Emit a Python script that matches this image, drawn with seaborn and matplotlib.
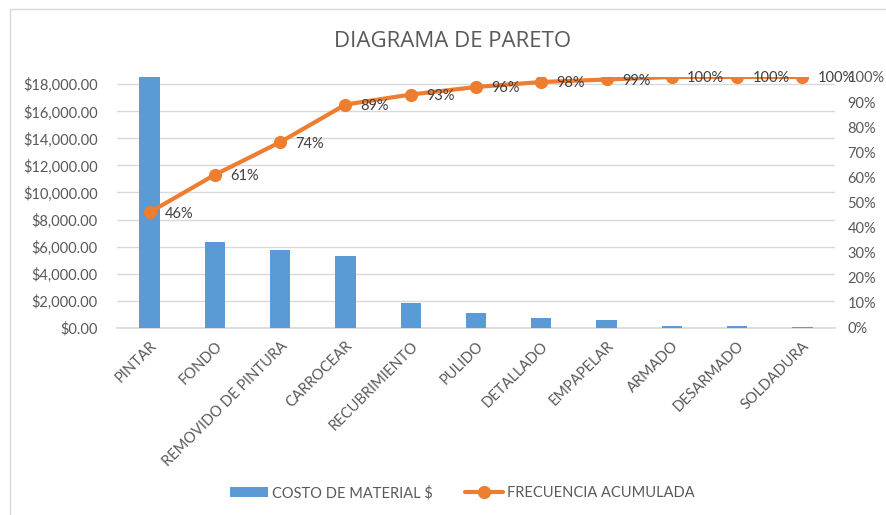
import matplotlib
matplotlib.use("Agg")
import matplotlib.pyplot as plt
from matplotlib.lines import Line2D
from matplotlib.patches import Patch
from matplotlib.ticker import FuncFormatter, MultipleLocator
import seaborn as sns
import pandas as pd

# Pareto data: material cost per activity and cumulative frequency
actividades = ["PINTAR", "FONDO", "REMOVIDO DE PINTURA", "CARROCEAR",
               "RECUBRIMIENTO", "PULIDO", "DETALLADO", "EMPAPELAR",
               "ARMADO", "DESARMADO", "SOLDADURA"]
costo = [18540, 6320, 5750, 5310, 1830, 1060, 720, 570, 160, 110, 50]
frecuencia_acumulada = [0.46, 0.61, 0.74, 0.89, 0.93, 0.96, 0.98, 0.99, 1.00, 1.00, 1.00]

df = pd.DataFrame({"actividad": actividades, "costo": costo,
                   "acumulada": frecuencia_acumulada,
                   "pos": range(len(actividades))})

sns.set_theme(style="white")
plt.rcParams["font.family"] = ["Lato", "DejaVu Sans"]

AZUL = "#5B9BD5"
NARANJA = "#ED7D31"
GRIS_TXT = "#595959"
GRIS_LINEA = "#D9D9D9"

fig = plt.figure(figsize=(8.86, 5.15), dpi=100)
ax = fig.add_axes([0.132, 0.3637, 0.8105, 0.4868])

sns.barplot(data=df, x="actividad", y="costo", color=AZUL, saturation=1,
            width=0.31, linewidth=0, ax=ax, zorder=3)
ax.set_xlim(-0.5, len(actividades) - 0.5)
ax.set_ylim(0, costo[0])
ax.yaxis.set_major_locator(MultipleLocator(2000))
ax.yaxis.set_major_formatter(FuncFormatter(lambda v, _: f"${v:,.2f}"))
ax.grid(axis="y", color=GRIS_LINEA, linewidth=1, zorder=0)
ax.set_axisbelow(True)
ax.set_xlabel("")
ax.set_ylabel("")
for s in ["top", "right", "left"]:
    ax.spines[s].set_visible(False)
ax.spines["bottom"].set_color(GRIS_LINEA)
ax.spines["bottom"].set_zorder(0)
ax.tick_params(axis="both", length=0, colors=GRIS_TXT, labelsize=10.5)
ax.tick_params(axis="y", pad=14)
plt.setp(ax.get_xticklabels(), rotation=45, ha="right", rotation_mode="anchor")
ax.tick_params(axis="x", pad=8)

ax2 = ax.twinx()
sns.lineplot(data=df, x="pos", y="acumulada", color=NARANJA, linewidth=3,
             marker="o", markersize=9.5, markeredgewidth=0, ax=ax2)
ax2.set_ylim(0, 1)
ax2.yaxis.set_major_locator(MultipleLocator(0.1))
ax2.yaxis.set_major_formatter(FuncFormatter(lambda v, _: f"{v:.0%}"))
ax2.set_ylabel("")
ax2.set_xlabel("")
for s in ["top", "right", "left", "bottom"]:
    ax2.spines[s].set_visible(False)
ax2.tick_params(axis="y", length=0, colors=GRIS_TXT, labelsize=10.5, pad=9)
ax2.set_xlim(-0.5, len(actividades) - 0.5)

for x, v in zip(df["pos"], frecuencia_acumulada):
    ax2.annotate(f"{v:.0%}", (x, v), xytext=(11, -1), textcoords="offset points",
                 ha="left", va="center", fontsize=10.5, color="#404040")

fig.text(0.511, 0.92, "DIAGRAMA DE PARETO", ha="center", va="center",
         fontsize=16, color=GRIS_TXT, family=["Open Sans", "DejaVu Sans"])

handles = [Patch(facecolor=AZUL, edgecolor="none"),
           Line2D([0], [0], color=NARANJA, linewidth=3, marker="o",
                  markersize=9.5, markeredgewidth=0)]
fig.legend(handles, ["COSTO DE MATERIAL $", "FRECUENCIA ACUMULADA"],
           loc="center", bbox_to_anchor=(0.522, 0.043), ncol=2, frameon=False,
           fontsize=10.5, labelcolor=GRIS_TXT, handlelength=2.6,
           handletextpad=0.3, columnspacing=2.2)

# chart area border (left and top edges)
fig.add_artist(Line2D([10 / 886, 10 / 886, 1.0], [0.0, 1 - 9 / 515, 1 - 9 / 515],
                      transform=fig.transFigure, color="#D9D9D9", linewidth=1))

fig.savefig("out.png", dpi=100, facecolor="white")
